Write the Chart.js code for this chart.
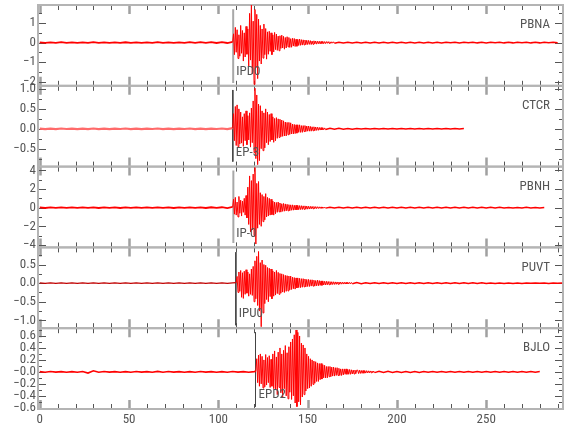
<!DOCTYPE html>
<html><head><meta charset="utf-8">
<script src="https://cdn.jsdelivr.net/npm/chart.js@4.4.1/dist/chart.umd.min.js"></script>
<style>html,body{margin:0;padding:0;background:#fff}canvas{display:block}</style>
</head><body>
<canvas id="c" width="580" height="440"></canvas>
<script>
// ---- sampling (seconds) ----
const PRE_DT = 3, WAVE_DT = 0.5, TAIL_DT = 2.5;

// ---- station names / picks ----
const STATIONS = ['PBNA', 'CTCR', 'PBNH', 'PUVT', 'BJLO'];
const PICKS = ['IPD0', 'EP-3', 'IP-0', 'IPU0', 'EPD2'];
const PICK_T = [108.3, 108.1, 108.4, 109.8, 120.8];
const PICK_TOP = [1.71, 0.975, 3.98, 0.83, 0.66];
const PICK_BOT = [-2.07, -0.825, -3.8, -1.13, -0.58];
const ONSET = [108, 108, 108, 110, 121];

// ---- axis ranges / ticks ----
const X_MIN = -1, X_MAX = 293;
const X_TICKS = [0, 50, 100, 150, 200, 250];
const X_LABELS = ['0', '50', '100', '150', '200', '250'];
const Y_MIN = [-2.22, -0.95, -4.26, -1.21, -0.62];
const Y_MAX = [1.93, 1.08, 4.4, 0.96, 0.73];
const Y_TICKS = [
  [-2, -1, 0, 1],
  [-0.5, 0, 0.5, 1],
  [-4, -2, 0, 2, 4],
  [-1, -0.5, 0, 0.5],
  [-0.6, -0.4, -0.2, 0, 0.2, 0.4, 0.6]
];
const Y_LABELS = [
  ['\u22122', '\u22121', '0', '1'],
  ['\u22120.5', '0.0', '0.5', '1.0'],
  ['\u22124', '\u22122', '0', '2', '4'],
  ['\u22121.0', '\u22120.5', '0.0', '0.5'],
  ['\u22120.6', '\u22120.4', '\u22120.2', '\u22120.0', '0.2', '0.4', '0.6']
];
const Y_MINOR = [0.5, 0.25, 1, 0.25, 0.1];

// ---- PBNA ----
const PBNA_PRE = [0.015,-0.018,0.012,-0.015,0.018,-0.012,0.014,-0.017,0.012,-0.015,0.018,-0.013,0.015,-0.018,0.012,-0.016,0.017,-0.012,0.015,-0.018,0.013,-0.015,0.018,-0.014,0.012,-0.017,0.015,-0.013,0.018,-0.015,0.02,-0.018,0.022,-0.02,0.025,-0.022];
const PBNA_WAVE = [0.04,
  0.45,-0.62,0.78,-0.5,
  0.66,-0.82,0.4,-0.7,0.88,-0.55,0.62,-0.95,0.5,-0.74,0.83,-0.6,0.7,
  -1.2,1.5,-0.9,1.92,-1.6,1.1,-2.15,1.7,-1.3,1.45,-1.85,1.2,
  -0.95,0.88,-1.1,0.7,-0.8,0.95,-0.62,0.72,-0.85,0.55,-0.6,
  0.58,-0.45,0.5,-0.62,0.4,-0.48,0.52,-0.36,0.44,-0.4,0.33,-0.42,0.35,-0.3,0.38,-0.28,0.32,-0.34,0.26,
  -0.28,0.3,-0.22,0.26,-0.25,0.2,-0.24,0.22,-0.18,0.21,-0.2,0.17,-0.19,0.16,-0.15,0.18,-0.14,0.15,-0.13,0.14,-0.12,0.13,-0.11,0.12,-0.1,
  0.11,-0.09,0.1,-0.1,0.08,-0.09,0.09,-0.07,0.08,-0.08,0.07,-0.06,0.07,-0.07,0.06,-0.05,0.06,-0.06,0.05,-0.05,0.05,-0.04,0.05,-0.04,0.04,-0.04,0.04,-0.03,0.04,-0.03];
const PBNA_TAIL = [0.02,-0.018,0.018,-0.02,0.017,-0.016,0.018,-0.017,0.016,-0.018,0.017,-0.015,0.016,-0.017,0.015,-0.016,0.017,-0.015,0.016,-0.015,0.015,-0.016,0.017,-0.015,0.016,-0.014,0.015,-0.016,0.015,-0.014,0.016,-0.015,0.014,-0.016,0.015,-0.014,0.016,-0.015,0.014,-0.015,0.015,-0.014,0.016,-0.015,0.014,-0.015,0.016,-0.014,0.015,-0.014];

// ---- CTCR ----
const CTCR_PRE = [0.006,-0.007,0.005,-0.006,0.007,-0.005,0.006,-0.007,0.005,-0.006,0.007,-0.006,0.005,-0.007,0.006,-0.005,0.007,-0.006,0.005,-0.007,0.006,-0.005,0.007,-0.006,0.005,-0.007,0.006,-0.005,0.007,-0.006,0.005,-0.007,0.006,-0.005,0.007,-0.006];
const CTCR_WAVE = [0.015,
  0.38,-0.3,0.56,-0.42,0.6,-0.45,0.5,-0.38,
  0.42,-0.36,0.3,-0.44,0.38,-0.3,0.45,-0.4,0.33,-0.28,0.4,-0.46,0.52,-0.35,
  0.7,-0.6,1.02,-0.75,0.85,-0.9,0.62,-0.8,0.58,
  -0.5,0.45,-0.55,0.4,-0.48,0.5,-0.35,0.42,-0.4,
  0.36,-0.32,0.38,-0.28,0.3,-0.34,0.26,-0.3,0.28,-0.24,0.25,-0.22,0.24,-0.2,0.22,-0.19,0.2,-0.18,0.17,-0.18,0.16,-0.15,0.16,-0.14,0.15,-0.13,
  0.12,-0.13,0.11,-0.12,0.1,-0.11,0.1,-0.09,0.1,-0.09,0.08,-0.09,0.08,-0.07,0.08,-0.07,0.07,-0.06,0.07,-0.06,0.06,-0.06,0.05,-0.05,0.05,-0.05,
  0.045,-0.04,0.04,-0.038,0.035,-0.032,0.03,-0.03,0.026,-0.025,0.022,-0.02];
const CTCR_TAIL = [0.012,-0.01,0.011,-0.01,0.009,-0.01,0.009,-0.008,0.009,-0.008,0.008,-0.007,0.008,-0.007,0.007,-0.008,0.007,-0.006,0.007,-0.006,0.006,-0.007,0.006,-0.006,0.007,-0.006,0.006,-0.005,0.006,-0.006,0.005];

// ---- PBNH ----
const PBNH_PRE = [0.03,-0.035,0.025,-0.03,0.035,-0.028,0.032,-0.025,0.035,-0.03,0.028,-0.035,0.025,-0.03,0.033,-0.035,0.028,-0.025,0.035,-0.03,0.025,-0.028,0.035,-0.03,0.028,-0.035,0.025,-0.03,0.035,-0.028,0.032,-0.035,0.04,-0.032,0.045,-0.04];
const PBNH_WAVE = [0.08,
  0.9,-0.7,1.1,-0.8,0.6,-1.0,1.2,-0.6,0.8,-0.9,0.7,-0.5,1.0,-0.8,
  1.3,-1.1,2.2,-1.8,3.4,-2.6,2.9,-2.4,3.6,-3.0,4.3,-3.9,2.6,-2.2,2.8,
  -1.8,1.6,-2.0,1.4,-1.5,1.2,-1.3,1.5,-1.0,1.1,-0.9,1.0,-0.8,0.9,-0.75,0.7,-0.8,0.6,-0.65,
  0.55,-0.5,0.6,-0.45,0.5,-0.48,0.42,-0.4,0.45,-0.38,0.4,-0.35,0.36,-0.34,0.32,-0.33,0.3,-0.28,0.3,-0.27,0.26,-0.25,0.26,-0.23,0.24,-0.22,0.22,-0.2,0.21,-0.2,0.19,-0.18,0.19,-0.17,0.17,-0.16,
  0.15,-0.15,0.14,-0.13,0.13,-0.12,0.12,-0.11,0.11,-0.1,0.1,-0.09,0.09,-0.08,0.08,-0.07,0.07,-0.06,0.06,-0.05];
const PBNH_TAIL = [0.05,-0.048,0.046,-0.045,0.044,-0.042,0.042,-0.04,0.04,-0.04,0.038,-0.036,0.038,-0.036,0.035,-0.036,0.035,-0.034,0.035,-0.033,0.034,-0.033,0.032,-0.034,0.032,-0.031,0.033,-0.031,0.031,-0.032,0.03,-0.031,0.031,-0.03,0.03,-0.031,0.03,-0.029,0.03,-0.03,0.029,-0.03,0.029,-0.028,0.03,-0.029,0.028,-0.029,0.028];

// ---- PUVT ----
const PUVT_PRE = [0.005,-0.006,0.007,-0.005,0.006,-0.007,0.005,-0.006,0.007,-0.005,0.006,-0.007,0.005,-0.006,0.007,-0.005,0.006,-0.007,0.005,-0.006,0.007,-0.005,0.006,-0.007,0.005,-0.006,0.007,-0.005,0.006,-0.007,0.005,-0.006,0.007,-0.005,0.006,-0.007,0.005];
const PUVT_WAVE = [0.015,
  0.18,-0.25,0.3,-0.22,0.34,-0.38,0.28,-0.41,0.32,-0.3,0.36,-0.27,0.3,-0.35,0.25,-0.3,0.38,-0.33,
  0.45,-0.5,0.6,-0.42,0.72,-0.6,0.85,-0.75,0.55,-1.17,0.62,-0.8,0.5,-0.55,0.48,-0.44,0.42,-0.5,
  0.4,-0.36,0.38,-0.42,0.33,-0.35,0.3,-0.32,0.34,-0.28,0.29,-0.3,0.26,-0.27,0.25,-0.24,0.23,-0.25,0.21,-0.22,0.2,-0.21,0.19,-0.18,0.19,-0.17,
  0.16,-0.15,0.15,-0.16,0.14,-0.13,0.14,-0.12,0.13,-0.12,0.12,-0.11,0.12,-0.1,0.11,-0.1,0.1,-0.09,0.1,-0.09,0.09,-0.08,0.09,-0.08,0.08,-0.08,0.07,-0.07,0.08,-0.07,0.07,-0.06,0.06,-0.06,0.06,-0.05,0.05,-0.05,
  0.05,-0.045,0.045,-0.042,0.04,-0.04,0.038,-0.036,0.036,-0.034,0.033,-0.032,0.032,-0.03,0.03,-0.028,0.028,-0.027,0.026,-0.025,0.025,-0.024,0.023,-0.022,0.022,-0.02,0.02,-0.019,0.018,-0.017];
const PUVT_TAIL = [0.014,-0.013,0.013,-0.012,0.012,-0.012,0.011,-0.011,0.011,-0.01,0.01,-0.01,0.01,-0.009,0.009,-0.01,0.009,-0.009,0.009,-0.008,0.008,-0.009,0.008,-0.008,0.008,-0.008,0.008,-0.007,0.008,-0.007,0.007,-0.008,0.007,-0.007,0.007,-0.007,0.007,-0.007,0.007,-0.006,0.007,-0.006,0.006,-0.007,0.006,-0.006,0.006];

// ---- BJLO ----
const BJLO_PRE = [0.004,-0.005,0.006,-0.004,0.005,-0.006,0.004,-0.005,0.006,-0.02,0.018,-0.005,0.006,-0.004,0.005,-0.006,0.004,-0.005,0.006,-0.004,0.005,-0.006,0.008,-0.005,0.006,-0.004,0.005,-0.006,0.004,-0.005,0.006,-0.004,0.005,-0.006,0.004,-0.005,0.006,-0.004,0.005,-0.006,0.005];
const BJLO_WAVE = [0.01,
  0.22,-0.18,0.28,-0.24,0.3,-0.2,0.26,-0.27,0.2,-0.25,0.29,-0.22,0.24,-0.18,0.27,-0.26,0.21,-0.24,0.3,
  -0.28,0.35,-0.3,0.25,-0.38,0.33,-0.26,0.4,-0.35,0.3,-0.42,0.36,-0.28,0.44,-0.4,0.32,-0.45,0.42,-0.34,
  0.5,-0.46,0.55,-0.4,0.62,-0.52,0.7,-0.58,0.66,-0.5,0.6,-0.55,0.48,-0.42,0.45,-0.38,0.4,
  -0.32,0.3,-0.28,0.26,-0.27,0.22,-0.24,0.2,-0.21,0.18,-0.19,0.17,-0.16,0.15,-0.16,0.14,-0.13,0.14,-0.12,0.12,
  -0.1,0.11,-0.1,0.09,-0.1,0.09,-0.08,0.09,-0.08,0.08,-0.07,0.08,-0.07,0.07,-0.06,0.07,-0.06,0.06,-0.06,0.05,-0.06,0.05,-0.05,0.05,-0.04,0.05,-0.04,0.04,-0.04,0.04,-0.04,0.035,-0.035,0.03,-0.035,0.03,-0.03,0.03,
  0.03,-0.028,0.028,-0.026,0.025,-0.024,0.023,-0.022,0.021,-0.02,0.02,-0.018,0.018,-0.017,0.016,-0.015,0.015,-0.014,0.013,-0.012];
const BJLO_TAIL = [0.01,-0.009,0.009,-0.009,0.008,-0.008,0.008,-0.008,0.007,-0.008,0.007,-0.007,0.007,-0.007,0.007,-0.006,0.007,-0.006,0.006,-0.007,0.006,-0.006,0.006,-0.006,0.006,-0.006,0.006,-0.005,0.006,-0.005,0.006,-0.005,0.005,-0.005,0.006,-0.005,0.005];

const TRACES = [
  [PBNA_PRE, PBNA_WAVE, PBNA_TAIL],
  [CTCR_PRE, CTCR_WAVE, CTCR_TAIL],
  [PBNH_PRE, PBNH_WAVE, PBNH_TAIL],
  [PUVT_PRE, PUVT_WAVE, PUVT_TAIL],
  [BJLO_PRE, BJLO_WAVE, BJLO_TAIL]
];

// line styles per trace: pre-arrival colour / width
const PRE_COLOR = ['#ff0000', '#ff6a6a', '#ff0000', '#c00000', '#ff0000'];
const PRE_WIDTH = [1.8, 2.2, 1.8, 1.2, 1.6];

function buildTrace(pre, onset, wave, tail) {
  const pts = [];
  pre.forEach((v, i) => pts.push({x: i * PRE_DT, y: v}));
  wave.forEach((v, i) => pts.push({x: onset + i * WAVE_DT, y: v}));
  const tailStart = onset + (wave.length - 1) * WAVE_DT + TAIL_DT;
  tail.forEach((v, i) => pts.push({x: tailStart + i * TAIL_DT, y: v}));
  return pts;
}

const FONT = "'Roboto Condensed','Liberation Sans',sans-serif";
const TXT = '#555555';
const FRAME = '#b4b4b4';

const datasets = [];
TRACES.forEach((t, i) => {
  const onset = ONSET[i];
  const waveEnd = onset + (t[1].length - 1) * WAVE_DT;
  datasets.push({
    data: buildTrace(t[0], onset, t[1], t[2]),
    yAxisID: 'y' + i, borderColor: '#ff0000', borderWidth: 1,
    pointRadius: 0, tension: 0, order: 0,
    segment: {
      borderWidth: c => c.p0.parsed.x < onset ? PRE_WIDTH[i] : (c.p0.parsed.x >= waveEnd ? 1.5 : 1),
      borderColor: c => c.p0.parsed.x < onset ? PRE_COLOR[i] : '#ff0000'
    }
  });
});
PICK_T.forEach((t, i) => {
  const heavy = (i === 0 || i === 2);
  datasets.push({
    data: [{x: t, y: PICK_TOP[i]}, {x: t, y: PICK_BOT[i]}],
    yAxisID: 'y' + i, borderColor: heavy ? '#a8a8a8' : '#444444',
    borderWidth: heavy ? 2 : 1, pointRadius: 0, order: 1
  });
});

const scales = {
  x: {
    type: 'linear', position: 'bottom', min: X_MIN, max: X_MAX,
    grid: {display: false, drawTicks: false}, border: {display: false},
    afterBuildTicks: s => { s.ticks = X_TICKS.map(v => ({value: v})); },
    afterFit: s => { s.height = 31; s.paddingLeft = 0; s.paddingRight = 0; },
    ticks: {autoSkip: false, maxRotation: 0, padding: 3, color: TXT,
      font: {family: FONT, size: 13}, callback: (v, idx) => X_LABELS[idx]}
  }
};
STATIONS.forEach((s, i) => {
  scales['y' + i] = {
    type: 'linear', position: 'left', stack: 'traces', stackWeight: 1,
    weight: 10 - i, min: Y_MIN[i], max: Y_MAX[i],
    grid: {display: false, drawTicks: false}, border: {display: false},
    afterBuildTicks: sc => { sc.ticks = Y_TICKS[i].map(v => ({value: v})); },
    afterFit: sc => { sc.width = 38; sc.paddingTop = 0; sc.paddingBottom = 0; },
    ticks: {autoSkip: false, padding: 2, color: TXT,
      font: {family: FONT, size: 13}, callback: (v, idx) => Y_LABELS[i][idx]}
  };
});

const framePlugin = {
  id: 'frame',
  beforeDatasetsDraw(chart) {
    const ctx = chart.ctx, xs = chart.scales.x;
    const L = xs.left, R = xs.right;
    ctx.save();
    STATIONS.forEach((name, i) => {
      const ys = chart.scales['y' + i];
      const T = ys.top, B = ys.bottom;
      for (let v = 0; v <= 290; v += 10) {
        const px = Math.round(xs.getPixelForValue(v)) + 0.5;
        const major = v % 50 === 0;
        ctx.strokeStyle = major ? '#a0a0a0' : '#555';
        ctx.lineWidth = major ? 2.5 : 1;
        const len = major ? 9 : 5;
        ctx.beginPath();
        ctx.moveTo(px, T); ctx.lineTo(px, T + len);
        ctx.moveTo(px, B); ctx.lineTo(px, B - len);
        ctx.stroke();
      }
      const step = Y_MINOR[i];
      const start = Math.ceil(Y_MIN[i] / step - 1e-6);
      const end = Math.floor(Y_MAX[i] / step + 1e-6);
      for (let k = start; k <= end; k++) {
        const v = k * step;
        const py = Math.round(ys.getPixelForValue(v)) + 0.5;
        const major = Y_TICKS[i].some(t => Math.abs(t - v) < 1e-6);
        const len = major ? 8 : 4;
        ctx.strokeStyle = '#555';
        ctx.lineWidth = 1;
        ctx.beginPath();
        ctx.moveTo(L, py); ctx.lineTo(L + len, py);
        ctx.moveTo(R, py); ctx.lineTo(R - len, py);
        ctx.stroke();
      }
      ctx.strokeStyle = FRAME;
      ctx.lineWidth = 2;
      ctx.strokeRect(L, T, R - L, B - T);
    });
    ctx.restore();
  },
  afterDatasetsDraw(chart) {
    const ctx = chart.ctx, xs = chart.scales.x;
    ctx.save();
    ctx.fillStyle = TXT;
    ctx.font = '13px ' + FONT;
    ctx.textBaseline = 'middle';
    STATIONS.forEach((name, i) => {
      const ys = chart.scales['y' + i];
      ctx.textAlign = 'right';
      ctx.fillText(name, xs.right - 13, ys.top + 20);
      ctx.textAlign = 'left';
      ctx.fillText(PICKS[i], xs.getPixelForValue(PICK_T[i]) + 3, ys.bottom - 14);
    });
    ctx.restore();
  }
};

new Chart(document.getElementById('c'), {
  type: 'line',
  data: {datasets},
  options: {
    responsive: false, animation: false,
    layout: {padding: {left: 0, right: 17, top: 5, bottom: 0}},
    plugins: {legend: {display: false}, tooltip: {enabled: false}, title: {display: false}},
    scales
  },
  plugins: [framePlugin]
});
</script>
</body></html>
